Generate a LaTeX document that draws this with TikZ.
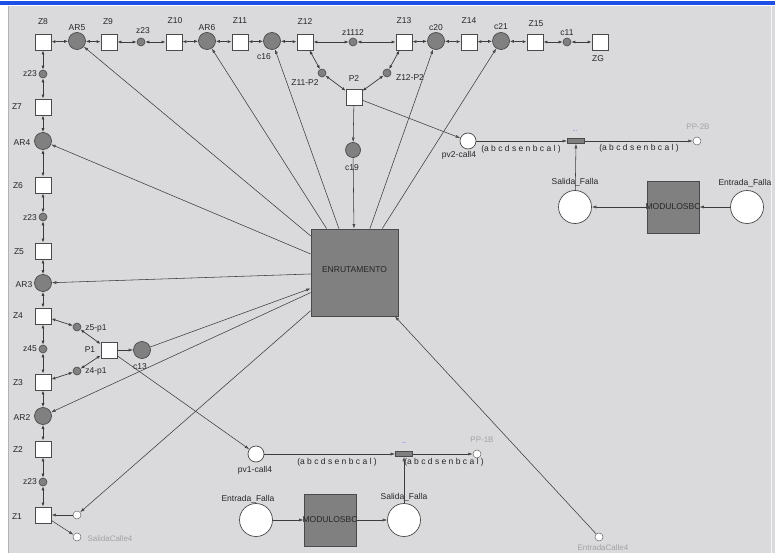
\documentclass[tikz,border=0pt]{standalone}
\usepackage{fontspec}
\setmainfont{Liberation Sans}
\usetikzlibrary{arrows.meta}
\definecolor{bg}{HTML}{DAD9DC}
\definecolor{pl}{HTML}{808080}
\definecolor{ln}{HTML}{3C3C3C}
\definecolor{bd}{HTML}{4A4A4A}
\definecolor{gt}{HTML}{A3A3A3}
\definecolor{topblue}{HTML}{1E50E6}
\tikzset{
  trans/.style={rectangle, draw=bd, fill=white, minimum size=16pt, inner sep=0pt, line width=0.8pt},
  place/.style={circle, draw=bd, fill=pl, minimum size=17pt, inner sep=0pt, line width=0.7pt},
  splace/.style={circle, draw=bd, fill=pl, minimum size=8pt, inner sep=0pt, line width=0.6pt},
  wplace/.style={circle, draw=bd, fill=white, minimum size=16pt, inner sep=0pt, line width=0.7pt},
  bigw/.style={circle, draw=bd, fill=white, minimum size=33pt, inner sep=0pt, line width=0.7pt},
  tinyw/.style={circle, draw=gray!80!black, fill=white, minimum size=8pt, inner sep=0pt, line width=0.5pt},
  subst/.style={rectangle, draw=bd, fill=pl, inner sep=0pt, line width=0.8pt},
  barbox/.style={rectangle, draw=bd, fill=pl, minimum width=17pt, minimum height=5pt, inner sep=0pt, line width=0.6pt},
  lbl/.style={font=\fontsize{8.5}{9}\selectfont, text=black!85, inner sep=0pt},
  glbl/.style={font=\fontsize{8}{9}\selectfont, text=gt, inner sep=0pt},
  arc/.style={draw=ln, line width=0.55pt, -{Latex[length=4.5pt,width=3pt,fill=pl]}},
  darc/.style={draw=ln, line width=0.7pt, {Latex[length=4pt,width=3pt,fill=pl]}-{Latex[length=4pt,width=3pt,fill=pl]}}
}
\begin{document}
\begin{tikzpicture}[x=1pt,y=-1pt]
\useasboundingbox (0,0) rectangle (775,553);
\fill[white] (0,0) rectangle (775,553);
\fill[bg] (9,6) rectangle (775,553);
\fill[topblue] (0,1.5) rectangle (775,5);
\draw[gray!60, line width=0.6pt] (8.7,6) -- (8.7,553);
\draw[white!90!gray, line width=0.6pt] (771,6) -- (771,553);

% ---- top row
\node[trans]  (Z8)  at (43,42) {};
\node[place]  (AR5) at (77,41) {};
\node[trans]  (Z9)  at (109,42) {};
\node[splace] (z23t) at (141,42) {};
\node[trans]  (Z10) at (174,42) {};
\node[place]  (AR6) at (207,41) {};
\node[trans]  (Z11) at (240,42) {};
\node[place]  (c16) at (272,41) {};
\node[trans]  (Z12) at (305,42) {};
\node[splace] (z1112) at (353,42) {};
\node[trans]  (Z13) at (404,42) {};
\node[place]  (c20) at (436,41) {};
\node[trans]  (Z14) at (469,42) {};
\node[place]  (c21) at (501,41) {};
\node[trans]  (Z15) at (535,42) {};
\node[splace] (c11) at (567,42) {};
\node[trans]  (ZG)  at (600,42) {};

\node[lbl] (lZ8) at (43,22) {Z8};
\node[lbl] (lAR5) at (77,28) {AR5};
\node[lbl] (lZ9) at (108,22) {Z9};
\node[lbl] (lz23t) at (143,31) {z23};
\node[lbl] (lZ10) at (175,21) {Z10};
\node[lbl] (lAR6) at (207,28) {AR6};
\node[lbl] (lZ11) at (240,21) {Z11};
\node[lbl] (lc16) at (264,57) {c16};
\node[lbl] (lZ12) at (305,22) {Z12};
\node[lbl] (lz1112) at (353,33) {z1112};
\node[lbl] (lZ13) at (404,21) {Z13};
\node[lbl] (lc20) at (436,28) {c20};
\node[lbl] (lZ14) at (469,21) {Z14};
\node[lbl] (lc21) at (501,27) {c21};
\node[lbl] (lZ15) at (536,24) {Z15};
\node[lbl] (lc11) at (567,33) {c11};
\node[lbl] (lZG) at (598,59) {ZG};

% ---- P2 group
\node[splace] (Z11P2) at (322,73) {};
\node[splace] (Z12P2) at (387,73) {};
\node[trans]  (P2) at (354,97) {};
\node[place, minimum size=15pt] (c19) at (353,150) {};
\node[lbl] (lZ11P2) at (305,83) {Z11-P2};
\node[lbl] (lZ12P2) at (410,78) {Z12-P2};
\node[lbl] (lP2) at (354,79) {P2};
\node[lbl] (lc19) at (352,168) {c19};

% ---- left column
\node[splace] (z23a) at (43,74) {};
\node[trans]  (Z7)  at (43,107) {};
\node[place]  (AR4) at (43,141) {};
\node[trans]  (Z6)  at (43,185) {};
\node[splace] (z23b) at (43,217) {};
\node[trans]  (Z5)  at (43,251) {};
\node[place]  (AR3) at (43,283) {};
\node[trans]  (Z4)  at (43,316) {};
\node[splace] (z45) at (43,349) {};
\node[trans]  (Z3)  at (43,382) {};
\node[place]  (AR2) at (43,416) {};
\node[trans]  (Z2)  at (43,449) {};
\node[splace] (z23c) at (43,482) {};
\node[trans]  (Z1)  at (43,515) {};

\node[lbl] (lz23a) at (30,74) {z23};
\node[lbl] (lZ7) at (17,107) {Z7};
\node[lbl] (lAR4) at (22,143) {AR4};
\node[lbl] (lZ6) at (18,186) {Z6};
\node[lbl] (lz23b) at (30,218) {z23};
\node[lbl] (lZ5) at (19,252) {Z5};
\node[lbl] (lAR3) at (24,285) {AR3};
\node[lbl] (lZ4) at (18,316) {Z4};
\node[lbl] (lz45) at (30,349) {z45};
\node[lbl] (lZ3) at (18,383) {Z3};
\node[lbl] (lAR2) at (22,418) {AR2};
\node[lbl] (lZ2) at (18,450) {Z2};
\node[lbl] (lz23c) at (30,482) {z23};
\node[lbl] (lZ1) at (17,517) {Z1};

% ---- P1 group
\node[splace] (z5p1) at (77,327) {};
\node[trans]  (P1) at (109,350) {};
\node[place]  (c13) at (142,350) {};
\node[splace] (z4p1) at (77,371) {};
\node[lbl] (lz5p1) at (96,328) {z5-p1};
\node[lbl] (lP1) at (90,350) {P1};
\node[lbl] (lz4p1) at (96,371) {z4-p1};
\node[lbl] (lc13) at (140,367) {c13};

\node[tinyw] (z1in) at (77,515) {};
\node[tinyw] (sal4) at (77,537) {};
\node[glbl] (lsal4) at (110,539) {SalidaCalle4};

% ---- ENRUTAMENTO
\node[subst, minimum size=87pt] (ENR) at (354.5,272.5) {};
\node[lbl] (lENR) at (354.5,270) {ENRUTAMENTO};

\node[tinyw] (ent4) at (599,537) {};
\node[glbl] (lent4) at (603,548) {EntradaCalle4};

% ---- right top group
\node[wplace] (pv2) at (468,141) {};
\node[barbox] (bar2) at (576,141) {};
\node[tinyw] (pp2b) at (697,141) {};
\node[bigw] (sf2) at (575,207) {};
\node[subst, minimum size=52pt] (mod2) at (673,207) {};
\node[bigw] (ef2) at (747,207) {};
\node[lbl] (lpv2) at (459,155) {pv2-call4};
\node[lbl] (la2) at (521,149) {(a b c d s e n b c a l )};
\node[lbl] (lb2) at (639,148) {(a b c d s e n b c a l )};
\node[glbl] (lpp2b) at (698,127) {PP-2B};
\node[lbl, text=blue!70, font=\fontsize{6}{6}\selectfont] (dots2) at (575,131) {...};
\node[lbl] (lsf2) at (575,182) {Salida\_Falla};
\node[lbl] (lef2) at (745,183) {Entrada\_Falla};
\node[lbl] (lmod2) at (673,207) {MODULOSBC};

% ---- bottom group
\node[wplace] (pv1) at (256,454) {};
\node[barbox] (bar1) at (404,454) {};
\node[tinyw] (pp1b) at (477,454) {};
\node[bigw] (sf1) at (404,520) {};
\node[subst, minimum size=52pt] (mod1) at (330,520) {};
\node[bigw] (ef1) at (256,520) {};
\node[lbl] (lpv1) at (255,470) {pv1-call4};
\node[lbl] (la1) at (337,462) {(a b c d s e n b c a l )};
\node[lbl] (lb1) at (444,462) {(a b c d s e n b c a l )};
\node[glbl] (lpp1b) at (482,440) {PP-1B};
\node[lbl, text=blue!70, font=\fontsize{6}{6}\selectfont] (dots1) at (404,443) {...};
\node[lbl] (lsf1) at (404,497) {Salida\_Falla};
\node[lbl] (lef1) at (248,499) {Entrada\_Falla};
\node[lbl] (lmod1) at (330,520) {MODULOSBC};

% ---- arcs: top row
\foreach \a/\b in {Z8/AR5, AR5/Z9, Z9/z23t, z23t/Z10, Z10/AR6, AR6/Z11, Z11/c16, c16/Z12, Z12/z1112, z1112/Z13, Z13/c20, c20/Z14, Z14/c21, c21/Z15, Z15/c11, c11/ZG}
  \draw[darc] (\a) -- (\b);
% left column
\foreach \a/\b in {Z8/z23a, z23a/Z7, Z7/AR4, AR4/Z6, Z6/z23b, z23b/Z5, Z5/AR3, AR3/Z4, Z4/z45, z45/Z3, Z3/AR2, AR2/Z2, Z2/z23c, z23c/Z1}
  \draw[darc] (\a) -- (\b);
% P groups
\foreach \a/\b in {Z12/Z11P2, Z11P2/P2, P2/Z12P2, Z12P2/Z13, Z4/z5p1, z5p1/P1, P1/z4p1, z4p1/Z3}
  \draw[darc] (\a) -- (\b);
\draw[arc] (P1) -- (c13);
\draw[arc] (P2) -- (c19);
\draw[arc] (c19) -- (ENR);
\draw[arc] (c13) -- (ENR);
\draw[arc] (P1) -- (pv1);
\draw[arc] (P2) -- (pv2);
\draw[arc] (z1in) -- (Z1);
\draw[arc] (Z1) -- (sal4);
\draw[arc] (ent4) -- (ENR);
\foreach \t in {AR5, AR6, c16, c20, c21, AR4, AR3, AR2, z1in}
  \draw[arc] (ENR) -- (\t);
% right group
\draw[arc] (pv2) -- (bar2);
\draw[arc] (bar2) -- (pp2b);
\draw[arc] (sf2) -- (bar2);
\draw[arc] (mod2) -- (sf2);
\draw[arc] (ef2) -- (mod2);
% bottom group
\draw[arc] (pv1) -- (bar1);
\draw[arc] (bar1) -- (pp1b);
\draw[arc] (sf1) -- (bar1);
\draw[arc] (ef1) -- (mod1);
\draw[arc] (mod1) -- (sf1);
\end{tikzpicture}
\end{document}
